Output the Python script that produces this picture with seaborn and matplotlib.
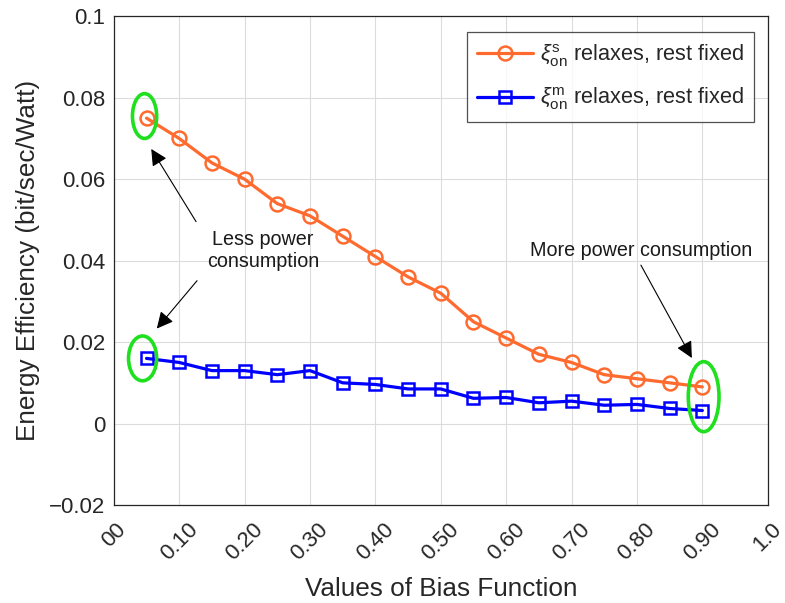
import numpy as np
import pandas as pd
import matplotlib
matplotlib.use("Agg")
import matplotlib.pyplot as plt
from matplotlib.patches import Ellipse
import seaborn as sns

bias = [0.05, 0.10, 0.15, 0.20, 0.25, 0.30, 0.35, 0.40, 0.45, 0.50,
        0.55, 0.60, 0.65, 0.70, 0.75, 0.80, 0.85, 0.90]
ee_s = [0.075, 0.070, 0.064, 0.060, 0.054, 0.051, 0.046, 0.041, 0.036, 0.032,
        0.025, 0.021, 0.017, 0.015, 0.012, 0.011, 0.010, 0.009]
ee_m = [0.016, 0.015, 0.013, 0.013, 0.012, 0.013, 0.010, 0.0096, 0.0085, 0.0085,
        0.0062, 0.0064, 0.0051, 0.0055, 0.0045, 0.0047, 0.0037, 0.0032]
xtick_vals = [0.0, 0.1, 0.2, 0.3, 0.4, 0.5, 0.6, 0.7, 0.8, 0.9, 1.0]
xtick_labels = ["00", "0.10", "0.20", "0.30", "0.40", "0.50", "0.60", "0.70", "0.80", "0.90", "1.0"]
ytick_vals = [-0.02, 0.0, 0.02, 0.04, 0.06, 0.08, 0.1]
ytick_labels = ["\u22120.02", "0", "0.02", "0.04", "0.06", "0.08", "0.1"]
label_s = r"$\xi_{\mathrm{on}}^{\mathrm{s}}$ relaxes, rest fixed"
label_m = r"$\xi_{\mathrm{on}}^{\mathrm{m}}$ relaxes, rest fixed"

sns.set_theme(style="whitegrid")
plt.rcParams['font.family'] = ['Liberation Sans', 'DejaVu Sans']
plt.rcParams['mathtext.fontset'] = 'custom'
plt.rcParams['mathtext.rm'] = 'Liberation Sans'
plt.rcParams['mathtext.it'] = 'Liberation Sans:italic'

df = pd.DataFrame({"bias": bias, "s": ee_s, "m": ee_m})

fig = plt.figure(figsize=(7.85, 6.03), dpi=100)
ax = fig.add_axes([0.145, 0.1625, 0.833, 0.8105])
ax.set_facecolor("white")

orange = "#FF6A2E"
blue = "#0000FF"
sns.lineplot(data=df, x="bias", y="s", ax=ax, color=orange, lw=2.3, marker="o",
             markersize=10, markerfacecolor="none", markeredgecolor=orange,
             markeredgewidth=1.8, label=label_s)
sns.lineplot(data=df, x="bias", y="m", ax=ax, color=blue, lw=2.3, marker="s",
             markersize=8, markerfacecolor="none", markeredgecolor=blue,
             markeredgewidth=1.8, label=label_m)

ax.set_xlim(0, 1.0)
ax.set_ylim(-0.02, 0.1)
ax.set_xticks(xtick_vals)
ax.set_xticklabels(xtick_labels, rotation=45, fontsize=16, color="#262626")
ax.set_yticks(ytick_vals)
ax.set_yticklabels(ytick_labels, fontsize=16, color="#262626")
ax.tick_params(direction="in", length=5, color="#262626", pad=6)
ax.tick_params(axis="x", pad=10)
ax.set_xlabel("Values of Bias Function", fontsize=18.8, color="#262626", labelpad=9)
ax.set_ylabel("Energy Efficiency (bit/sec/Watt)", fontsize=18.8, color="#262626", labelpad=7)
ax.grid(True, color="#dcdcdc", lw=0.8)
for sp in ax.spines.values():
    sp.set_visible(True)
    sp.set_color("#262626")
    sp.set_linewidth(0.9)

leg = ax.legend(loc="upper right", fontsize=15.7, frameon=True, fancybox=False,
                edgecolor="#262626", handlelength=2.6, handletextpad=0.3,
                borderpad=0.45, labelspacing=0.75, borderaxespad=0,
                bbox_to_anchor=(0.979, 0.967))
leg.get_frame().set_linewidth(0.9)

green = "#1EE01E"
for (cx, cy, w, h) in [(0.047, 0.0755, 0.037, 0.011),
                       (0.044, 0.016, 0.043, 0.011),
                       (0.902, 0.0066, 0.047, 0.0172)]:
    ax.add_patch(Ellipse((cx, cy), w, h, fill=False, edgecolor=green, lw=2.6, zorder=5))

arrow = dict(arrowstyle="-|>", color="black", lw=0.8, mutation_scale=25)
ax.text(0.228, 0.0425, "Less power\nconsumption", ha="center", va="center",
        fontsize=14.2, color="#1a1a1a", linespacing=1.25)
ax.annotate("", xy=(0.055, 0.068), xytext=(0.128, 0.049), arrowprops=arrow)
ax.annotate("", xy=(0.063, 0.0228), xytext=(0.13, 0.0356), arrowprops=arrow)
ax.text(0.807, 0.0425, "More power consumption", ha="center", va="center",
        fontsize=14.2, color="#1a1a1a")
ax.annotate("", xy=(0.886, 0.0155), xytext=(0.804, 0.0395), arrowprops=arrow)

fig.savefig("out.png", dpi=100)
